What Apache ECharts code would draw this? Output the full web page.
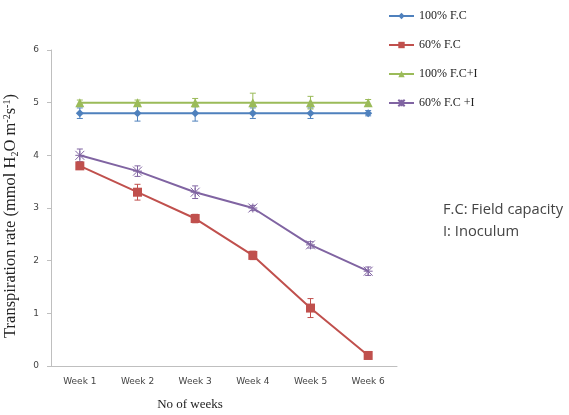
<!DOCTYPE html>
<html>
<head>
<meta charset="utf-8">
<script src="https://cdn.jsdelivr.net/npm/echarts@6/dist/echarts.min.js"></script>
<style>
  html, body { margin: 0; padding: 0; background: #fff; }
  #chart { width: 569px; height: 415px; }
</style>
</head>
<body>
<div id="chart"></div>
<script>
// Weekly transpiration rate under four water / inoculum treatments
const weeks = ['Week 1', 'Week 2', 'Week 3', 'Week 4', 'Week 5', 'Week 6'];

const fc100 = [4.8, 4.8, 4.8, 4.8, 4.8, 4.8];
const fc60 = [3.8, 3.3, 2.8, 2.1, 1.1, 0.2];
const fc100I = [5.0, 5.0, 5.0, 5.0, 5.0, 5.0];
const fc60I = [4.0, 3.7, 3.3, 3.0, 2.3, 1.8];

// standard errors
const fc100Err = [0.1, 0.15, 0.15, 0.1, 0.1, 0.05];
const fc60Err = [0.05, 0.15, 0.08, 0.08, 0.18, 0.06];
const fc100IErr = [0.05, 0.05, 0.08, 0.18, 0.12, 0.06];
const fc60IErr = [0.12, 0.1, 0.12, 0.05, 0.06, 0.08];

const seriesNames = ['100% F.C', '60% F.C', '100% F.C+I', '60% F.C +I'];
const colors = ['#4F81BD', '#C0504D', '#9BBB59', '#8064A2'];

const chart = echarts.init(document.getElementById('chart'));

function errorSeries(values, errs, color) {
  const data = values.map((v, i) => [i, v - errs[i], v + errs[i]]);
  return {
    type: 'custom',
    silent: true,
    z: 1,
    data: data,
    encode: { x: 0, y: [1, 2] },
    renderItem: function (params, api) {
      const x = api.value(0);
      const lo = api.coord([x, api.value(1)]);
      const hi = api.coord([x, api.value(2)]);
      const w = 3;
      const style = { stroke: color, lineWidth: 1 };
      return {
        type: 'group',
        children: [
          { type: 'line', shape: { x1: lo[0], y1: lo[1], x2: hi[0], y2: hi[1] }, style: style },
          { type: 'line', shape: { x1: lo[0] - w, y1: lo[1], x2: lo[0] + w, y2: lo[1] }, style: style },
          { type: 'line', shape: { x1: hi[0] - w, y1: hi[1], x2: hi[0] + w, y2: hi[1] }, style: style }
        ]
      };
    }
  };
}

function lineSeries(name, values, color, symbol, size, extraStyle) {
  return {
    name: name,
    type: 'line',
    data: values,
    z: 3,
    symbol: symbol,
    symbolSize: size,
    showAllSymbol: true,
    lineStyle: { color: color, width: 2 },
    itemStyle: Object.assign({ color: color }, extraStyle || {})
  };
}

const asterisk = 'path://M0,0L10,10M10,0L0,10M5,0L5,10M0,5L10,5';

chart.setOption({
  animation: false,
  color: colors,
  grid: { left: 51, right: 172, top: 50, bottom: 49, outerBoundsMode: 'none', containLabel: false },
  legend: {
    orient: 'vertical',
    left: 383,
    top: 5,
    itemGap: 17,
    itemWidth: 25,
    itemHeight: 8,
    textStyle: { fontFamily: 'Liberation Serif', fontSize: 12, color: '#222' },
    data: seriesNames
  },
  xAxis: {
    type: 'category',
    data: weeks,
    axisLine: { lineStyle: { color: '#BFBFBF' } },
    axisTick: { lineStyle: { color: '#BFBFBF' }, length: 4 },
    axisLabel: { color: '#444', fontSize: 9, margin: 11, fontFamily: 'DejaVu Sans' }
  },
  yAxis: {
    type: 'value',
    min: 0,
    max: 6,
    interval: 1,
    name: '{t|Transpiration rate (mmol H}{sub|2}{t|O m}{sup|-2}{t|s}{sup|-1}{t|)}',
    nameLocation: 'middle',
    nameGap: 31,
    nameTextStyle: {
      padding: [0, 16, 0, 0],
      rich: {
        t: { fontFamily: 'Liberation Serif', fontSize: 16.5, color: '#222' },
        sub: { fontFamily: 'Liberation Serif', fontSize: 10, color: '#222', padding: [8, 0, 0, 0] },
        sup: { fontFamily: 'Liberation Serif', fontSize: 10, color: '#222', padding: [0, 0, 8, 0] }
      }
    },
    axisLine: { show: true, lineStyle: { color: '#BFBFBF' } },
    axisTick: { show: true, lineStyle: { color: '#BFBFBF' }, length: 4 },
    splitLine: { show: false },
    axisLabel: { color: '#444', fontSize: 9, margin: 12, fontFamily: 'DejaVu Sans' }
  },
  graphic: [
    {
      type: 'text',
      x: 190,
      y: 405,
      style: {
        text: 'No of weeks',
        font: '13px "Liberation Serif"',
        fill: '#222',
        align: 'center',
        verticalAlign: 'middle'
      }
    },
    {
      type: 'text',
      x: 443,
      y: 210,
      style: { text: 'F.C: Field capacity', font: '14.7px "Open Sans"', fill: '#444', verticalAlign: 'middle' }
    },
    {
      type: 'text',
      x: 443,
      y: 232,
      style: { text: 'I: Inoculum', font: '14.7px "Open Sans"', fill: '#444', verticalAlign: 'middle' }
    }
  ],
  series: [
    errorSeries(fc100, fc100Err, colors[0]),
    errorSeries(fc60, fc60Err, colors[1]),
    errorSeries(fc100I, fc100IErr, colors[2]),
    errorSeries(fc60I, fc60IErr, colors[3]),
    lineSeries(seriesNames[0], fc100, colors[0], 'diamond', 8),
    lineSeries(seriesNames[1], fc60, colors[1], 'rect', 9),
    lineSeries(seriesNames[2], fc100I, colors[2], 'triangle', 9),
    lineSeries(seriesNames[3], fc60I, colors[3], asterisk, 9,
      { color: 'rgba(0,0,0,0)', borderColor: colors[3], borderWidth: 1 })
  ]
});
</script>
</body>
</html>
